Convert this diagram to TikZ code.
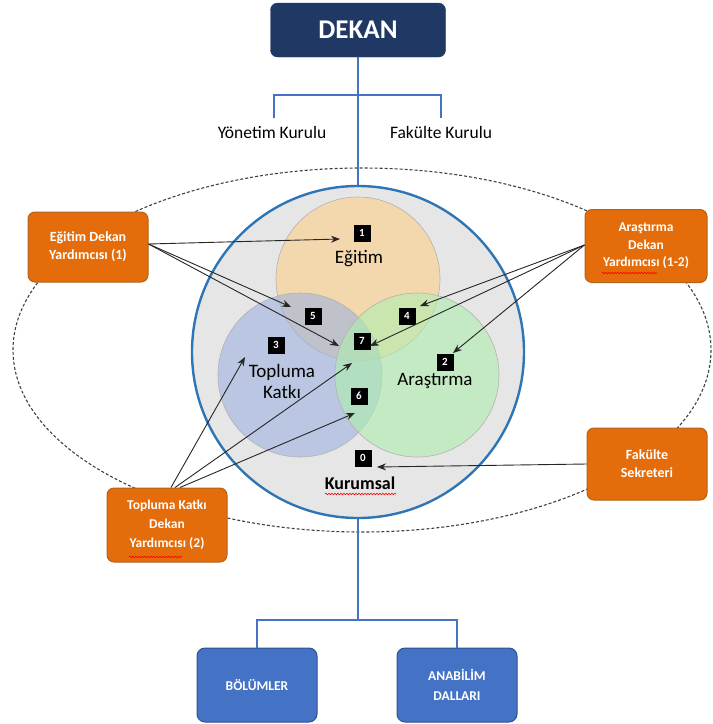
\documentclass[tikz,border=0pt]{standalone}
\usepackage{fontspec}
\setmainfont{Carlito}
\usetikzlibrary{arrows.meta,decorations.pathmorphing}
\definecolor{navy}{HTML}{1F3864}
\definecolor{orng}{HTML}{E46C0A}
\definecolor{orngb}{HTML}{B0651E}
\definecolor{bbox}{HTML}{4472C4}
\definecolor{bboxb}{HTML}{2F528F}
\definecolor{bline}{HTML}{4472C4}
\definecolor{ring}{HTML}{2E75B6}
\definecolor{ringfill}{HTML}{E7E6E6}
\definecolor{cegt}{HTML}{F9D49A}
\definecolor{ctop}{HTML}{9DB2E0}
\definecolor{cars}{HTML}{AEEEAE}
\tikzset{
  obox/.style={draw=orngb, line width=1pt, fill=orng, rounded corners=7pt, text=white,
    font=\bfseries\fontsize{14}{18}\selectfont, align=center, inner sep=2pt},
  bbx/.style={draw=bboxb, line width=1pt, fill=bbox, rounded corners=8pt, text=white,
    font=\bfseries\fontsize{13.5}{20}\selectfont, align=center, minimum width=120pt, minimum height=74pt},
  numbox/.style={fill=black, text=white, font=\bfseries\fontsize{11}{11}\selectfont,
    minimum size=17pt, inner sep=0pt},
  venn/.style={circle, draw=gray!60, line width=0.6pt, minimum size=164pt, inner sep=0pt},
  lbl/.style={font=\fontsize{19}{20}\selectfont, text=black, align=center},
  conn/.style={line width=2pt, draw=bline},
  arr/.style={draw=black!85, line width=0.9pt, -{Stealth[length=9pt,width=7pt]}},
  squig/.style={draw=red, line width=0.6pt, decorate,
    decoration={snake, amplitude=0.8pt, segment length=3pt}}
}
\begin{document}
\begin{tikzpicture}[x=1pt,y=-1pt]
\useasboundingbox (0,0) rectangle (713,724);

% dashed ellipse
\draw[black!75, line width=1.1pt, dash pattern=on 3pt off 2pt] (362,350) ellipse [x radius=349, y radius=182];

% Dekan
\node[draw=navy, fill=navy, rounded corners=7pt, minimum width=175pt, minimum height=54pt,
  text=white, font=\bfseries\fontsize{27}{28}\selectfont] (dekan) at (358,30) {DEKAN};

\coordinate (ya) at (274,118);
\coordinate (fa) at (441,118);
\node[font=\fontsize{17.5}{18}\selectfont] (yk) at (272,132) {Yönetim Kurulu};
\node[font=\fontsize{17.5}{18}\selectfont] (fk) at (441,132) {Fakülte Kurulu};
\draw[conn] (ya) -- ++(0,-23) -| (fa);

% outer circle
\node[circle, minimum size=332pt, inner sep=0pt] (outer) at (358,352) {};
\draw[conn] (dekan.south) -- (outer.north);
\coordinate (bj) at (358,620);
\node[bbx] (bol) at (257,685) {BÖLÜMLER};
\node[bbx] (ana) at (457,685) {ANABİLİM\\DALLARI};
\draw[conn] (outer.south) -- (bj);
\draw[conn] (bol.north) |- (bj) -| (ana.north);

\node[circle, draw=ring, line width=2.4pt, fill=ringfill, minimum size=332pt, inner sep=0pt] at (358,352) {};

% venn circles
\node[venn, fill=cegt, fill opacity=0.75] (cegt) at (358,279) {};
\node[venn, fill=ctop, fill opacity=0.6] (ctop) at (300,375) {};
\node[venn, fill=cars, fill opacity=0.6] (cars) at (417,375) {};

% labels
\node[lbl] (legt) at (359,259) {Eğitim};
\node[lbl, font=\fontsize{19}{21}\selectfont] (ltop) at (282,381) {Topluma\\Katkı};
\node[lbl] (lars) at (435,381) {Araştırma};
\node[lbl, font=\bfseries\fontsize{18}{19}\selectfont] (lkur) at (360,483) {Kurumsal};
\draw[squig] (325,494) -- (396,494);

% number boxes
\node[numbox] (n1) at (362,233) {1};
\node[numbox] (n2) at (445,362) {2};
\node[numbox] (n3) at (276,345) {3};
\node[numbox] (n4) at (407,316) {4};
\node[numbox] (n5) at (313,316) {5};
\node[numbox] (n6) at (359,396) {6};
\node[numbox] (n7) at (362,341) {7};
\node[numbox] (n0) at (363,458) {0};

% orange boxes
\node[obox, minimum width=120pt, minimum height=70pt] (egt) at (88,247) {Eğitim Dekan\\Yardımcısı (1)};
\node[obox, minimum width=122pt, minimum height=73pt, font=\bfseries\fontsize{13.5}{17.5}\selectfont] (ars) at (646,246) {Araştırma\\Dekan\\Yardımcısı (1-2)};
\node[obox, minimum width=120pt, minimum height=74pt, font=\bfseries\fontsize{13.5}{19}\selectfont] (tkd) at (167,525) {Topluma Katkı\\Dekan\\Yardımcısı (2)};
\node[obox, minimum width=120pt, minimum height=72pt] (fs) at (647,464) {Fakülte\\Sekreteri};
\draw[squig] (602,273) -- (657,273);
\draw[squig] (129,557) -- (182,557);

% arrow targets
\coordinate (t1) at (340,239);
\coordinate (t5) at (291,307);
\coordinate (t7a) at (339,346);
\coordinate (t4) at (420,306);
\coordinate (t7b) at (370,346);
\coordinate (t2) at (453,353);
\coordinate (t3) at (245,357);
\coordinate (t7c) at (352,363);
\coordinate (t6) at (355,413);
\coordinate (t0) at (377,467);

% arrows
\draw[arr] ([yshift=3pt]egt.east) -- (t1);
\draw[arr] ([yshift=3pt]egt.east) -- (t5);
\draw[arr] ([yshift=3pt]egt.east) -- (t7a);
\draw[arr] ([yshift=1pt]ars.west) -- (t4);
\draw[arr] ([yshift=1pt]ars.west) -- (t7b);
\draw[arr] ([yshift=1pt]ars.west) -- (t2);
\draw[arr] ([xshift=4pt]tkd.north) -- (t3);
\draw[arr] ([xshift=8pt]tkd.north) -- (t7c);
\draw[arr] ([xshift=13pt]tkd.north) -- (t6);
\draw[arr] (fs.west) -- (t0);
\end{tikzpicture}
\end{document}
